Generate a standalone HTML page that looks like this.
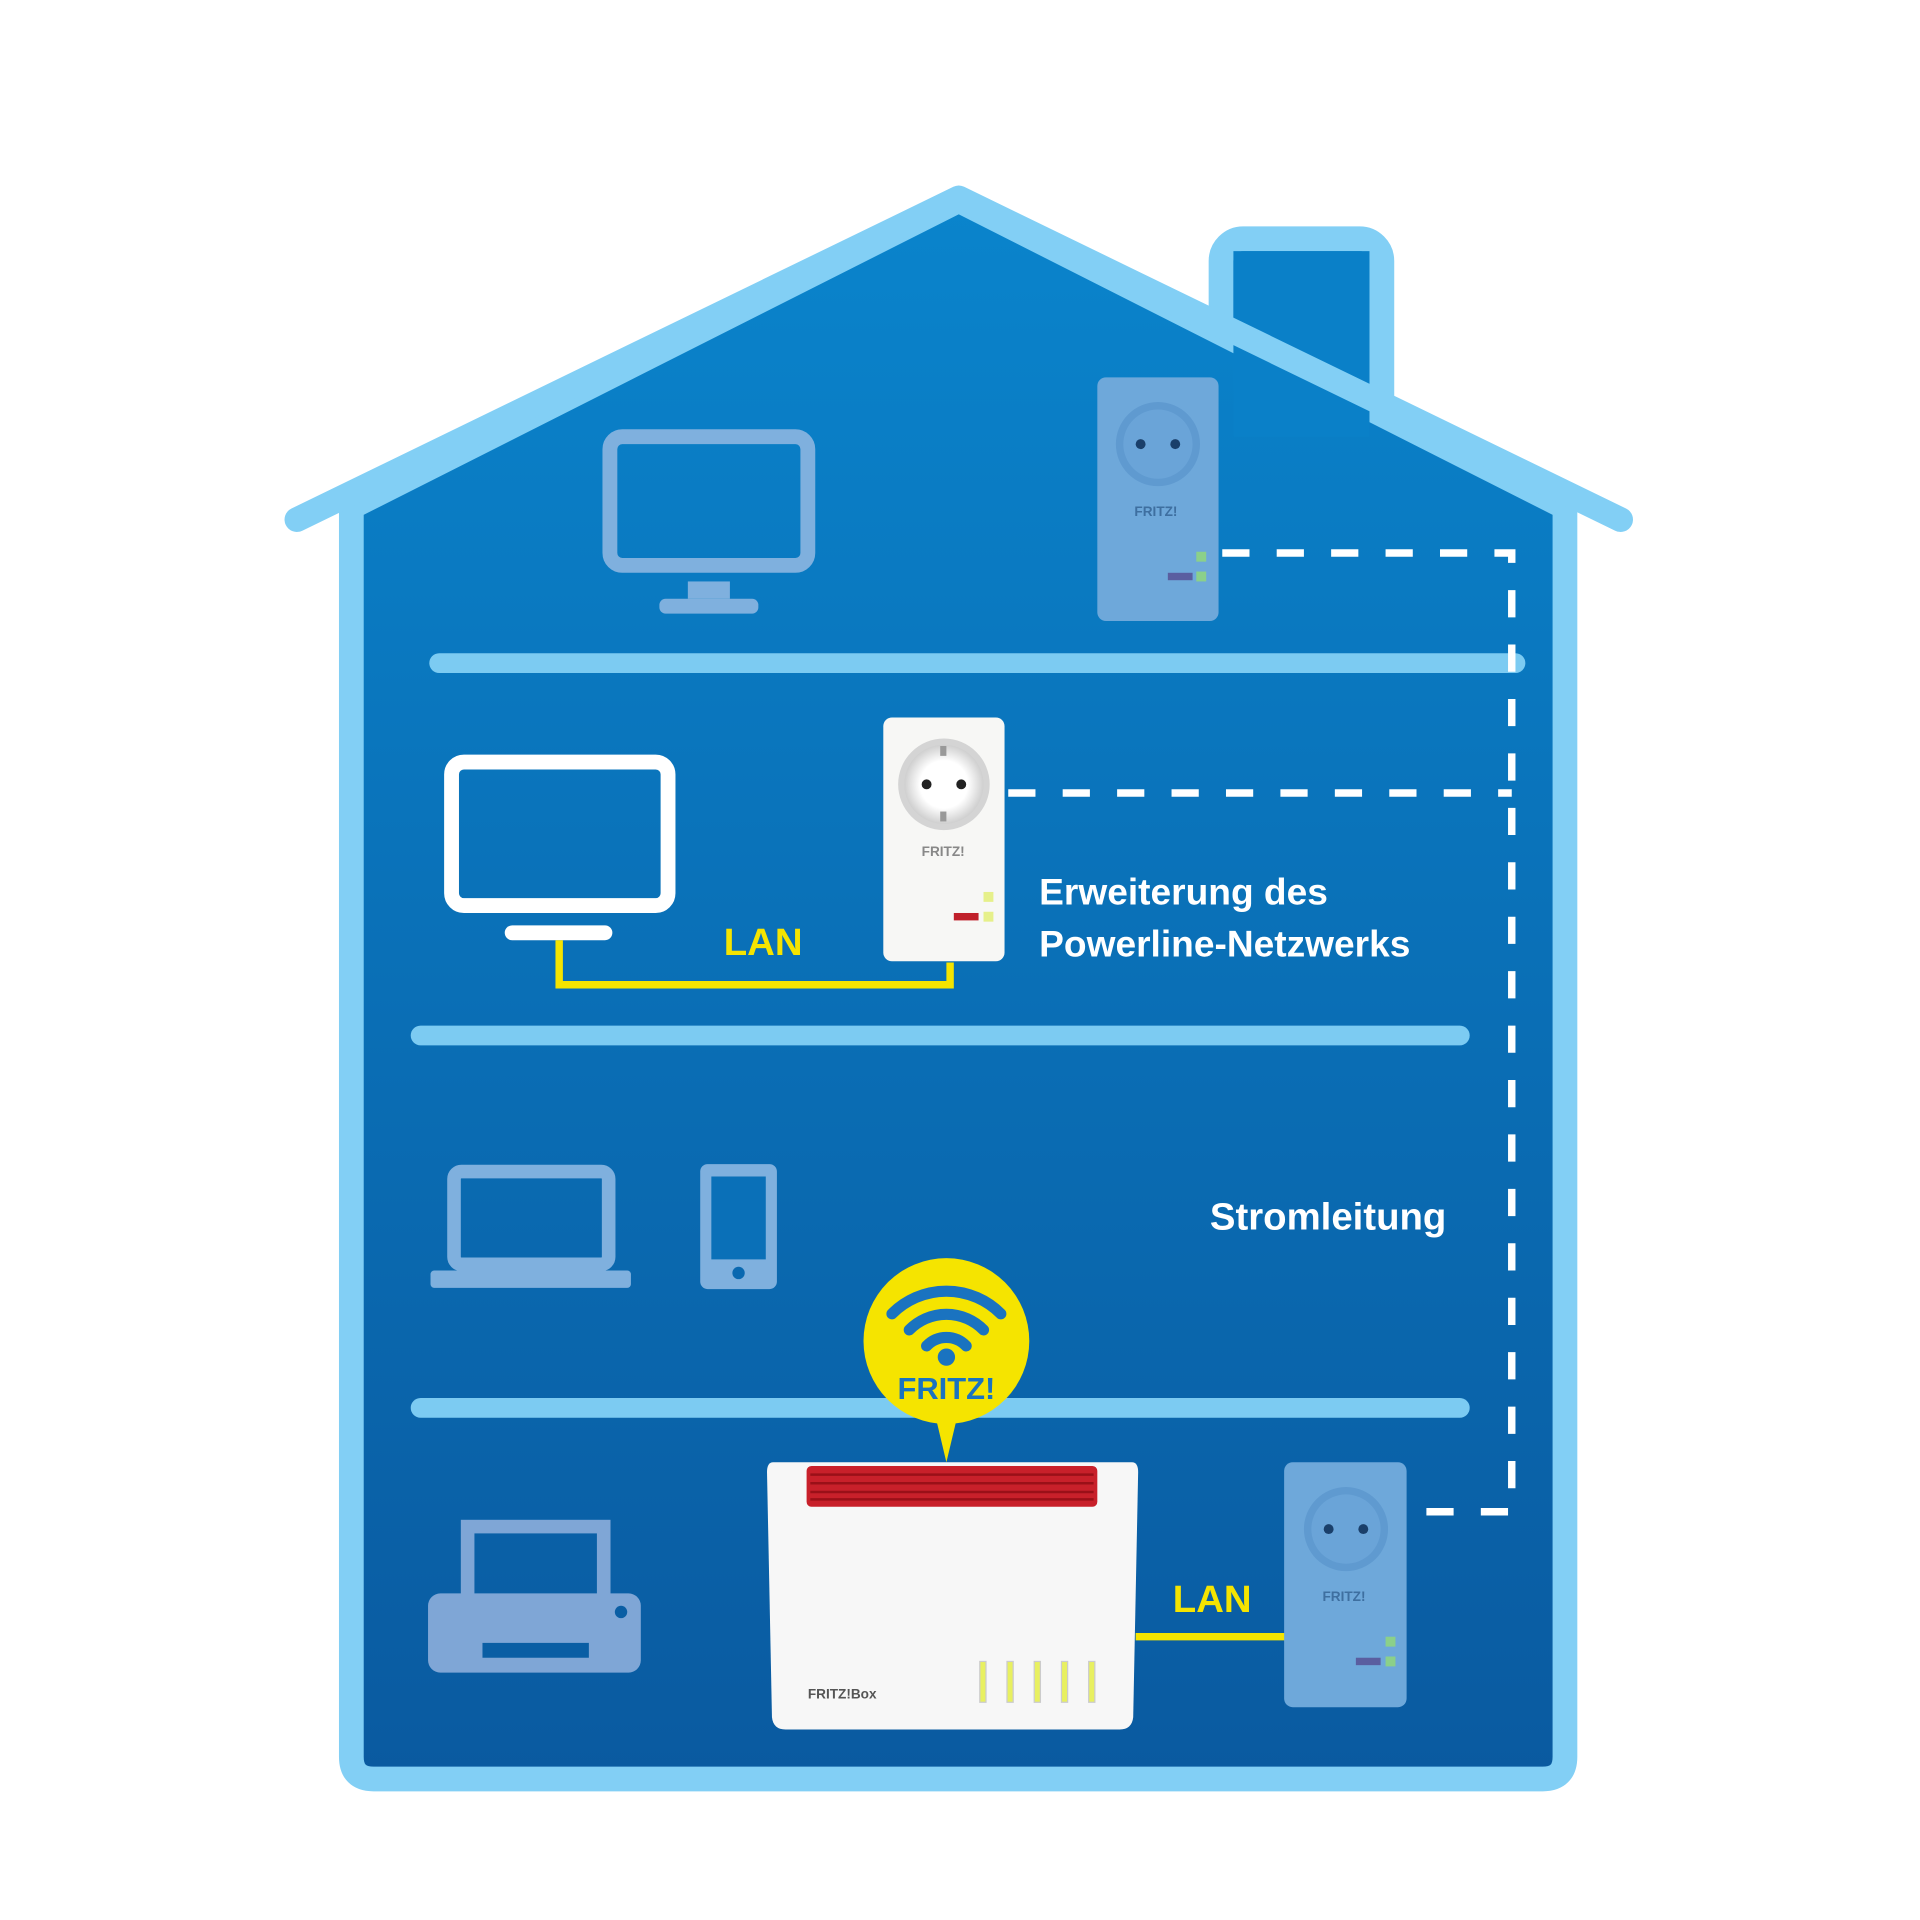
<!DOCTYPE html>
<html><head><meta charset="utf-8"><style>html,body{margin:0;padding:0;background:#fff}svg{display:block}</style></head>
<body>
<svg width="1920" height="1920" viewBox="0 0 1552 1552" xmlns="http://www.w3.org/2000/svg" font-family="Liberation Sans, sans-serif">
<defs>
<linearGradient id="bg" x1="0" y1="0" x2="0" y2="1"><stop offset="0" stop-color="#0a84cc"/><stop offset="1" stop-color="#0a5aa0"/></linearGradient>
<radialGradient id="sock" cx="0.5" cy="0.5" r="0.5"><stop offset="0.6" stop-color="#fff"/><stop offset="1" stop-color="#cfcfcf"/></radialGradient>
</defs>
<!-- chimney -->
<rect x="987" y="193" width="130" height="160" rx="18" fill="url(#bg)" stroke="#82cff5" stroke-width="20"/>
<!-- house body -->
<path d="M775,162 L1265,410 L1265,1420 Q1265,1438 1247,1438 L302,1438 Q284,1438 284,1420 L284,410 Z" fill="url(#bg)" stroke="#82cff5" stroke-width="20" stroke-linejoin="round"/>
<rect x="997" y="203" width="110" height="150" fill="#0a80c8"/>
<path d="M240,420 L775,160 L1310,420" fill="none" stroke="#82cff5" stroke-width="20" stroke-linecap="round" stroke-linejoin="round"/>
<!-- floors -->
<g stroke="#7ccbf2" stroke-width="16" stroke-linecap="round">
<line x1="355" y1="536" x2="1225" y2="536"/>
<line x1="340" y1="837" x2="1180" y2="837"/>
<line x1="340" y1="1138" x2="1180" y2="1138"/>
</g>
<!-- dashed power line -->
<path d="M988,447 L1222,447 L1222,1222 L1140,1222 M815,641 L1222,641" fill="none" stroke="#fff" stroke-width="6" stroke-dasharray="22,22"/>
<!-- top monitor -->
<rect x="493" y="353" width="160" height="104" rx="10" fill="none" stroke="#7fb0de" stroke-width="12"/>
<rect x="556" y="470" width="34" height="14" fill="#7fb0de"/>
<rect x="533" y="484" width="80" height="12" rx="5" fill="#7fb0de"/>
<!-- plug top -->
<g>
<rect x="887" y="305" width="98" height="197" rx="7" fill="#6ea8da"/>
<circle cx="936" cy="359" r="34" fill="#5f9ad0"/><circle cx="936" cy="359" r="28" fill="#6aa4d8"/>
<circle cx="922" cy="359" r="4" fill="#1a3f6a"/><circle cx="950" cy="359" r="4" fill="#1a3f6a"/>
<text x="917" y="417" font-size="11" font-weight="bold" fill="#3e6fa0">FRITZ!</text>
<rect x="967" y="446" width="8" height="8" fill="#8bd08a"/><rect x="967" y="462" width="8" height="8" fill="#8bd08a"/>
<rect x="944" y="463" width="20" height="6" fill="#5a5ea0"/>
</g>
<!-- TV middle -->
<rect x="365" y="616" width="175" height="116" rx="10" fill="none" stroke="#fff" stroke-width="12"/>
<rect x="408" y="748" width="87" height="12" rx="6" fill="#fff"/>
<path d="M452,760 L452,796 L768,796 L768,778" fill="none" stroke="#f5e400" stroke-width="6"/>
<text x="585" y="772" font-size="31" font-weight="bold" fill="#f5e400">LAN</text>
<!-- white plug -->
<rect x="714" y="580" width="98" height="197" rx="7" fill="#f7f7f5"/>
<circle cx="763" cy="634" r="37" fill="#d4d4d4"/><circle cx="763" cy="634" r="32" fill="url(#sock)"/>
<circle cx="749" cy="634" r="4" fill="#222"/><circle cx="777" cy="634" r="4" fill="#222"/>
<rect x="760" y="603" width="5" height="8" fill="#999"/><rect x="760" y="656" width="5" height="8" fill="#999"/>
<text x="745" y="692" font-size="11" font-weight="bold" fill="#888">FRITZ!</text>
<rect x="795" y="721" width="8" height="8" fill="#e6f08a"/><rect x="795" y="737" width="8" height="8" fill="#e6f08a"/>
<rect x="771" y="738" width="20" height="6" fill="#c0202a"/>
<text x="840" y="731" font-size="30" font-weight="bold" fill="#fff">Erweiterung des</text>
<text x="840" y="773" font-size="30" font-weight="bold" fill="#fff">Powerline-Netzwerks</text>
<!-- laptop / phone -->
<rect x="367" y="947" width="125" height="75" rx="6" fill="none" stroke="#7fb0de" stroke-width="11"/>
<rect x="348" y="1027" width="162" height="14" rx="3" fill="#7fb0de"/>
<rect x="566" y="941" width="62" height="101" rx="6" fill="#7fb0de"/>
<rect x="575" y="951" width="44" height="67" fill="#0a70b8"/>
<circle cx="597" cy="1029" r="5" fill="#0a68b0"/>
<text x="978" y="994" font-size="31" font-weight="bold" fill="#fff">Stromleitung</text>
<!-- printer -->
<rect x="378" y="1234" width="110" height="60" fill="none" stroke="#7fa6d6" stroke-width="11"/>
<rect x="346" y="1288" width="172" height="64" rx="10" fill="#7fa6d6"/>
<rect x="390" y="1328" width="86" height="12" fill="#0a5ea4"/>
<circle cx="502" cy="1303" r="5" fill="#0a5ea4"/>
<!-- router -->
<path d="M625,1182 L915,1182 Q920,1182 920,1190 L916,1388 Q915,1398 905,1398 L635,1398 Q625,1398 624,1388 L620,1190 Q620,1182 625,1182 Z" fill="#f7f7f7"/>
<rect x="652" y="1185" width="235" height="33" rx="4" fill="#c8202a"/>
<g stroke="#9a1018" stroke-width="2"><line x1="655" y1="1192" x2="884" y2="1192"/><line x1="655" y1="1199" x2="884" y2="1199"/><line x1="655" y1="1206" x2="884" y2="1206"/><line x1="655" y1="1212" x2="884" y2="1212"/></g>
<text x="653" y="1373" font-size="11" font-weight="bold" fill="#555">FRITZ!Box</text>
<g fill="#e8f060" stroke="#ccc" stroke-width="1">
<rect x="792" y="1343" width="5" height="33"/><rect x="814" y="1343" width="5" height="33"/><rect x="836" y="1343" width="5" height="33"/><rect x="858" y="1343" width="5" height="33"/><rect x="880" y="1343" width="5" height="33"/>
</g>
<!-- bubble -->
<path d="M755,1140 L765,1182 L775,1140 Z" fill="#f5e400"/>
<circle cx="765" cy="1084" r="67" fill="#f5e400"/>
<g fill="none" stroke="#1a73c0" stroke-width="9" stroke-linecap="round">
<path d="M721,1062 A62,62 0 0 1 809,1062"/>
<path d="M735,1075 A42,42 0 0 1 795,1075"/>
<path d="M749,1088 A22,22 0 0 1 781,1088"/>
</g>
<circle cx="765" cy="1097" r="7" fill="#1a73c0"/>
<text x="765" y="1131" font-size="25" font-weight="bold" fill="#1a73c0" text-anchor="middle">FRITZ!</text>
<!-- bottom LAN + plug -->
<line x1="918" y1="1323" x2="1040" y2="1323" stroke="#f5e400" stroke-width="6"/>
<text x="948" y="1303" font-size="31" font-weight="bold" fill="#f5e400">LAN</text>
<rect x="1038" y="1182" width="99" height="198" rx="7" fill="#6ea8da"/>
<circle cx="1088" cy="1236" r="34" fill="#5f9ad0"/><circle cx="1088" cy="1236" r="28" fill="#6aa4d8"/>
<circle cx="1074" cy="1236" r="4" fill="#1a3f6a"/><circle cx="1102" cy="1236" r="4" fill="#1a3f6a"/>
<text x="1069" y="1294" font-size="11" font-weight="bold" fill="#3e6fa0">FRITZ!</text>
<rect x="1120" y="1323" width="8" height="8" fill="#8bd08a"/><rect x="1120" y="1339" width="8" height="8" fill="#8bd08a"/>
<rect x="1096" y="1340" width="20" height="6" fill="#5a5ea0"/>
</svg>
</body></html>
